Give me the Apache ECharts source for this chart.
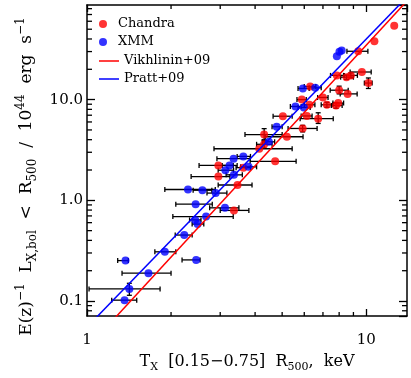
<!DOCTYPE html>
<html>
<head>
<meta charset="utf-8">
<script src="https://cdn.jsdelivr.net/npm/echarts@6/dist/echarts.min.js"></script>
<style>
html, body { margin: 0; padding: 0; background: #fff; }
#chart { width: 411px; height: 378px; }
</style>
</head>
<body>
<div id="chart"></div>
<script>
// each point: [T, L, Tlo, Thi, Llo, Lhi]
const chandraPoints = [
  [12.6, 54.1, 12.6, 12.6, 54.1, 54.1],
  [10.7, 38.0, 10.7, 10.7, 38.0, 38.0],
  [9.36, 30.2, 8.53, 10.14, 30.2, 30.2],
  [9.65, 18.8, 8.76, 10.42, 18.8, 18.8],
  [7.85, 17.4, 7.45, 8.3, 17.4, 17.4],
  [8.50, 16.7, 8.1, 9.0, 15.9, 17.5],
  [8.81, 17.4, 8.35, 9.3, 16.4, 18.4],
  [10.18, 14.6, 9.85, 10.5, 12.9, 16.4],
  [6.30, 13.5, 6.0, 6.6, 13.5, 13.5],
  [8.00, 12.4, 7.43, 8.62, 11.4, 13.6],
  [8.58, 11.4, 8.07, 9.28, 11.4, 11.4],
  [5.88, 10.0, 5.65, 6.1, 10.0, 10.0],
  [7.00, 10.5, 6.7, 7.3, 10.5, 10.5],
  [7.23, 8.88, 6.9, 7.6, 8.4, 9.4],
  [7.80, 8.74, 7.5, 8.2, 8.2, 9.3],
  [7.94, 9.25, 7.6, 8.3, 9.25, 9.25],
  [6.26, 8.88, 6.0, 6.55, 8.88, 8.88],
  [5.03, 6.84, 4.64, 5.43, 6.84, 6.84],
  [6.13, 6.88, 5.85, 6.4, 6.88, 6.88],
  [6.73, 6.47, 5.80, 7.62, 5.8, 7.4],
  [5.92, 5.17, 5.25, 6.67, 4.78, 5.55],
  [4.31, 4.50, 3.68, 5.00, 3.97, 5.15],
  [5.20, 4.28, 4.35, 5.94, 4.28, 4.28],
  [4.31, 3.60, 4.05, 4.6, 3.3, 3.95],
  [4.14, 3.25, 2.85, 5.43, 3.25, 3.25],
  [4.72, 2.44, 3.84, 5.61, 2.44, 2.44],
  [3.63, 2.11, 3.42, 3.85, 2.11, 2.11],
  [2.955, 2.22, 2.52, 3.34, 2.22, 2.22],
  [2.955, 1.72, 2.36, 3.25, 1.72, 1.72],
  [3.46, 1.42, 2.95, 3.9, 1.42, 1.42],
  [3.36, 0.794, 3.0, 3.8, 0.794, 0.794]
];

const xmmPoints = [
  [8.17, 30.8, 8.17, 8.17, 30.8, 30.8],
  [8.02, 29.9, 8.02, 8.02, 29.9, 29.9],
  [7.85, 26.9, 7.85, 7.85, 26.9, 26.9],
  [5.93, 12.9, 5.7, 6.25, 12.9, 12.9],
  [6.57, 13.1, 6.25, 6.9, 13.1, 13.1],
  [5.58, 8.55, 5.35, 5.85, 8.55, 8.55],
  [5.98, 8.36, 5.7, 6.3, 8.36, 8.36],
  [4.78, 5.38, 4.6, 5.0, 5.38, 5.38],
  [4.48, 3.81, 4.25, 4.7, 3.81, 3.81],
  [3.63, 2.73, 3.45, 3.85, 2.73, 2.73],
  [3.35, 2.59, 2.92, 3.84, 2.59, 2.59],
  [3.79, 2.15, 3.55, 4.05, 2.15, 2.15],
  [3.24, 2.22, 3.05, 3.45, 2.22, 2.22],
  [3.13, 1.99, 2.95, 3.35, 1.99, 1.99],
  [3.36, 1.79, 3.15, 3.6, 1.79, 1.79],
  [2.30, 1.28, 1.90, 2.88, 1.28, 1.28],
  [2.59, 1.26, 2.4, 2.8, 1.26, 1.26],
  [2.89, 1.18, 2.69, 3.17, 1.18, 1.18],
  [2.45, 0.915, 2.08, 2.81, 0.915, 0.915],
  [3.12, 0.842, 2.75, 3.5, 0.842, 0.842],
  [2.67, 0.689, 2.03, 3.34, 0.689, 0.689],
  [2.44, 0.639, 2.33, 2.56, 0.639, 0.639],
  [2.49, 0.581, 2.38, 2.62, 0.581, 0.581],
  [2.23, 0.452, 2.07, 2.38, 0.452, 0.452],
  [1.90, 0.308, 1.75, 2.08, 0.308, 0.308],
  [1.374, 0.252, 1.288, 1.406, 0.252, 0.252],
  [2.46, 0.256, 2.19, 2.54, 0.256, 0.256],
  [1.66, 0.189, 1.335, 2.00, 0.189, 0.189],
  [1.418, 0.132, 1.017, 1.827, 0.114, 0.150],
  [1.363, 0.102, 1.226, 1.507, 0.102, 0.102]
];

// fitted relations, end points at T = 1 and T = 14
const vikhlininLine = [[1, 0.0339], [14, 95.5]];
const prattLine = [[1, 0.0551], [14, 104.5]];

const xMinorTicks = [2, 3, 4, 5, 6, 7, 8, 9];
const yMinorTicks = [0.08, 0.09, 0.2, 0.3, 0.4, 0.5, 0.6, 0.7, 0.8, 0.9,
  2, 3, 4, 5, 6, 7, 8, 9, 20, 30, 40, 50, 60, 70, 80];

const FONT = 'DejaVu Serif';

function seg(x1, y1, x2, y2) {
  return { type: 'line', shape: { x1: x1, y1: y1, x2: x2, y2: y2 }, style: { stroke: '#000', lineWidth: 1.3 } };
}

// error bars with caps
function renderErr(params, api) {
  const t = api.value(0), l = api.value(1);
  const tlo = api.value(2), thi = api.value(3);
  const llo = api.value(4), lhi = api.value(5);
  const cap = 2.5;
  const kids = [];
  if (thi > tlo) {
    const a = api.coord([tlo, l]), b = api.coord([thi, l]);
    kids.push(seg(a[0], a[1], b[0], b[1]));
    kids.push(seg(a[0], a[1] - cap, a[0], a[1] + cap));
    kids.push(seg(b[0], b[1] - cap, b[0], b[1] + cap));
  }
  if (lhi > llo) {
    const c = api.coord([t, llo]), d = api.coord([t, lhi]);
    kids.push(seg(c[0], c[1], d[0], d[1]));
    kids.push(seg(c[0] - cap, c[1], c[0] + cap, c[1]));
    kids.push(seg(d[0] - cap, d[1], d[0] + cap, d[1]));
  }
  return { type: 'group', children: kids };
}

// log minor ticks on the frame
function renderXMinor(params, api) {
  const cs = params.coordSys;
  const x = api.coord([api.value(0), 1])[0];
  return { type: 'group', children: [
    seg(x, cs.y + cs.height, x, cs.y + cs.height - 4),
    seg(x, cs.y, x, cs.y + 4)
  ] };
}
function renderYMinor(params, api) {
  const cs = params.coordSys;
  const y = api.coord([2, api.value(1)])[1];
  return { type: 'group', children: [
    seg(cs.x, y, cs.x + 5, y),
    seg(cs.x + cs.width, y, cs.x + cs.width - 5, y)
  ] };
}

const isDecade = (v) => Math.abs(Math.log10(v) - Math.round(Math.log10(v))) < 1e-6;

const frameLine = { show: true, lineStyle: { color: '#000', width: 1.5 } };
const legendText = { fontFamily: FONT, fontSize: 13, color: '#000', lineHeight: 14 };

const chart = echarts.init(document.getElementById('chart'));
chart.setOption({
  animation: false,
  backgroundColor: '#fff',
  grid: { left: 87, right: 4, top: 5, bottom: 55 },
  legend: [
    {
      orient: 'vertical', left: 99, top: 17, padding: 0,
      itemWidth: 20, itemHeight: 8, itemGap: 4,
      icon: 'circle',
      data: ['Chandra', 'XMM'],
      textStyle: legendText
    },
    {
      orient: 'vertical', left: 99, top: 54, padding: 0,
      itemWidth: 20, itemHeight: 1.5, itemGap: 4,
      icon: 'rect',
      data: ['Vikhlinin+09', 'Pratt+09'],
      textStyle: legendText
    }
  ],
  xAxis: [
    {
      type: 'log', min: 1, max: 14, position: 'bottom',
      axisLine: frameLine,
      axisTick: { inside: true, length: 7, lineStyle: { color: '#000', width: 1.3 } },
      splitLine: { show: false },
      axisLabel: {
        margin: 17, color: '#000', fontFamily: FONT, fontSize: 15,
        showMaxLabel: false,
        formatter: (v) => (isDecade(v) ? String(Math.round(v)) : '')
      },
      name: '{m|T}{s|X}{m|  [0.15−0.75]  R}{s|500}{m|,  keV}',
      nameLocation: 'middle',
      nameGap: 35,
      nameTextStyle: {
        rich: {
          m: { fontFamily: FONT, fontSize: 16, lineHeight: 22, color: '#000' },
          s: { fontFamily: FONT, fontSize: 11, verticalAlign: 'bottom', color: '#000' }
        }
      }
    },
    {
      type: 'log', min: 1, max: 14, position: 'top',
      axisLine: frameLine,
      axisTick: { inside: true, length: 7, lineStyle: { color: '#000', width: 1.3 } },
      axisLabel: { show: false },
      splitLine: { show: false }
    }
  ],
  yAxis: [
    {
      type: 'log', min: 0.071, max: 87, position: 'left',
      axisLine: frameLine,
      axisTick: { inside: true, length: 8, lineStyle: { color: '#000', width: 1.3 } },
      splitLine: { show: false },
      axisLabel: {
        margin: 4, color: '#000', fontFamily: FONT, fontSize: 15,
        showMinLabel: false, showMaxLabel: false,
        formatter: (v) => (isDecade(v) ? v.toFixed(1) : '')
      },
      name: '{m|E(z)}{p|−1}{m|  L}{s|X,bol}{m|  <  R}{s|500}{m|  /  10}{p|44}{m|  erg  s}{p|−1}',
      nameLocation: 'middle',
      nameRotate: 90,
      nameGap: 35,
      nameTextStyle: {
        padding: [0, 32, 0, 0],
        rich: {
          m: { fontFamily: FONT, fontSize: 17, lineHeight: 24, color: '#000' },
          s: { fontFamily: FONT, fontSize: 12, verticalAlign: 'bottom', color: '#000' },
          p: { fontFamily: FONT, fontSize: 12, verticalAlign: 'top', color: '#000' }
        }
      }
    },
    {
      type: 'log', min: 0.071, max: 87, position: 'right',
      axisLine: frameLine,
      axisTick: { inside: true, length: 8, lineStyle: { color: '#000', width: 1.3 } },
      axisLabel: { show: false },
      splitLine: { show: false }
    }
  ],
  series: [
    {
      name: 'chandraErr', type: 'custom', renderItem: renderErr,
      data: chandraPoints, encode: { x: 0, y: 1 }, z: 2, silent: true
    },
    {
      name: 'xmmErr', type: 'custom', renderItem: renderErr,
      data: xmmPoints, encode: { x: 0, y: 1 }, z: 2, silent: true
    },
    {
      name: 'Chandra', type: 'scatter', symbol: 'circle', symbolSize: 8,
      itemStyle: { color: '#ff0000' },
      data: chandraPoints.map((p) => [p[0], p[1]]), z: 3
    },
    {
      name: 'XMM', type: 'scatter', symbol: 'circle', symbolSize: 8,
      itemStyle: { color: '#0000ff' },
      data: xmmPoints.map((p) => [p[0], p[1]]), z: 4
    },
    {
      name: 'Vikhlinin+09', type: 'line', symbol: 'none', data: vikhlininLine,
      lineStyle: { color: '#ff0000', width: 1.5 }, itemStyle: { color: '#ff0000' }, z: 5
    },
    {
      name: 'Pratt+09', type: 'line', symbol: 'none', data: prattLine,
      lineStyle: { color: '#0000ff', width: 1.5 }, itemStyle: { color: '#0000ff' }, z: 5
    },
    {
      name: 'xMinor', type: 'custom', renderItem: renderXMinor,
      data: xMinorTicks.map((v) => [v, 1]), encode: { x: 0, y: 1 }, z: 6, silent: true
    },
    {
      name: 'yMinor', type: 'custom', renderItem: renderYMinor,
      data: yMinorTicks.map((v) => [2, v]), encode: { x: 0, y: 1 }, z: 6, silent: true
    }
  ]
});
</script>
</body>
</html>
